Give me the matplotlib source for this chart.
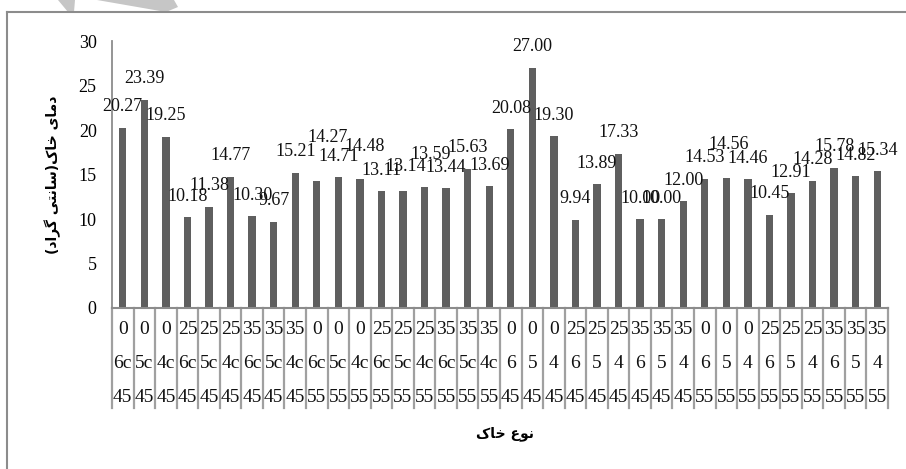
import matplotlib
matplotlib.use("Agg")
import matplotlib.pyplot as plt
import matplotlib.transforms as mtransforms
from matplotlib.lines import Line2D
from matplotlib.patches import Polygon

# soil temperature per soil type
temps = [20.27, 23.39, 19.25, 10.18, 11.38, 14.77, 10.30, 9.67, 15.21,
         14.27, 14.71, 14.48, 13.11, 13.14, 13.59, 13.44, 15.63, 13.69,
         20.08, 27.00, 19.30, 9.94, 13.89, 17.33, 10.00, 10.00, 12.00,
         14.53, 14.56, 14.46, 10.45, 12.91, 14.28, 15.78, 14.82, 15.34]

# three category levels shown under each bar
level1 = ["0", "0", "0", "25", "25", "25", "35", "35", "35"] * 4
level2 = (["6c", "5c", "4c"] * 6) + (["6", "5", "4"] * 6)
level3 = ["45"] * 9 + ["55"] * 9 + ["45"] * 9 + ["55"] * 9

y_title = "دمای خاک(سانتی گراد)"
x_title = "نوع خاک"

# hand nudges (pixels) for a few value labels that sit off their default spot
label_nudge = {9: (11, 22), 11: (5, 12), 13: (3, 4), 14: (6, 12), 28: (2, 13)}

# --- minimal Arabic/Persian shaping (matplotlib has no RTL layout) ---
FORMS = {  # isolated, final, initial, medial
    "ا": ("\uFE8D", "\uFE8E", None, None),
    "د": ("\uFEA9", "\uFEAA", None, None),
    "ر": ("\uFEAD", "\uFEAE", None, None),
    "و": ("\uFEED", "\uFEEE", None, None),
    "خ": ("\uFEA5", "\uFEA6", "\uFEA7", "\uFEA8"),
    "ک": ("\uFB8E", "\uFB8F", "\uFB90", "\uFB91"),
    "م": ("\uFEE1", "\uFEE2", "\uFEE3", "\uFEE4"),
    "ی": ("\uFBFC", "\uFBFD", "\uFBFE", "\uFBFF"),
    "س": ("\uFEB1", "\uFEB2", "\uFEB3", "\uFEB4"),
    "ن": ("\uFEE5", "\uFEE6", "\uFEE7", "\uFEE8"),
    "ت": ("\uFE95", "\uFE96", "\uFE97", "\uFE98"),
    "گ": ("\uFB92", "\uFB93", "\uFB94", "\uFB95"),
    "ع": ("\uFEC9", "\uFECA", "\uFECB", "\uFECC"),
}


def shape_rtl(text):
    out = []
    for i, ch in enumerate(text):
        if ch not in FORMS:
            out.append(ch)
            continue
        prev = text[i - 1] if i > 0 else ""
        nxt = text[i + 1] if i + 1 < len(text) else ""
        join_prev = prev in FORMS and FORMS[prev][2] is not None
        join_next = FORMS[ch][2] is not None and nxt in FORMS
        iso, fin, ini, med = FORMS[ch]
        if join_prev and join_next:
            out.append(med)
        elif join_prev:
            out.append(fin)
        elif join_next:
            out.append(ini)
        else:
            out.append(iso)
    vis = "".join(reversed(out))
    return vis.translate(str.maketrans("()", ")("))


plt.rcParams["font.family"] = ["Liberation Serif", "DejaVu Serif"]

W, H = 906, 469
fig = plt.figure(figsize=(W / 100, H / 100), dpi=100)


def px(pts):
    return [(a / W, 1 - b / H) for a, b in pts]


# faint grey stamp strokes along the top edge
stamp = "#c6c6c6"
fig.add_artist(Polygon(px([(58, 0), (75, 0), (74, 12), (68, 12)]), closed=True,
                       facecolor=stamp, edgecolor="none", transform=fig.transFigure))
fig.add_artist(Polygon(px([(97, 0), (174, 0), (178, 7), (166, 12)]), closed=True,
                       facecolor=stamp, edgecolor="none", transform=fig.transFigure))

# outer chart border (runs off the right and bottom edges)
grey = "#8c8c8c"
fig.add_artist(Line2D([7 / W, 1.02], [1 - 12 / H, 1 - 12 / H], color=grey, lw=1.5,
                      transform=fig.transFigure))
fig.add_artist(Line2D([7 / W, 7 / W], [1 - 12 / H, -0.02], color=grey, lw=1.5,
                      transform=fig.transFigure))

left, right, top, bottom = 112, 888, 41, 308
ax = fig.add_axes([left / W, 1 - bottom / H, (right - left) / W, (bottom - top) / H])

x = list(range(len(temps)))
ax.bar(x, temps, width=0.34, color="#5f5f5f")
ax.set_xlim(-0.5, len(temps) - 0.5)
ax.set_ylim(0, 30)
ax.set_yticks(range(0, 31, 5))
ax.tick_params(axis="y", length=0, pad=11, labelsize=13)
ax.set_xticks([])
for s in ["top", "right"]:
    ax.spines[s].set_visible(False)
ax.spines["left"].set_color(grey)
ax.spines["bottom"].set_color(grey)
ax.spines["left"].set_linewidth(1.3)
ax.spines["bottom"].set_linewidth(1.5)

for i, v in enumerate(temps):
    dx, dy = label_nudge.get(i, (0, 0))
    ax.annotate(f"{v:.2f}", (i, v), xytext=(dx, 21 + dy), textcoords="offset pixels",
                ha="center", va="center", fontsize=13, color="#111111")

# category table under the axis
ph = bottom - top
trans = mtransforms.blended_transform_factory(ax.transData, ax.transAxes)
tab_bottom = -(408 - bottom) / ph
for k in range(len(temps) + 1):
    ax.add_line(Line2D([k - 0.5, k - 0.5], [0, tab_bottom], color="#a0a0a0", lw=1.6,
                       transform=trans, clip_on=False))
row_y = [-(330 - bottom) / ph, -(364 - bottom) / ph, -(397 - bottom) / ph]
for labels, yy in zip([level1, level2, level3], row_y):
    for i, lab in enumerate(labels):
        ax.text(i, yy, lab, transform=trans, ha="center", va="center", fontsize=14,
                color="#111111")

fig.text(505 / W, 1 - 434 / H, shape_rtl(x_title), ha="center", va="center",
         fontsize=10, fontweight="bold", family="DejaVu Sans")
fig.text(53 / W, 1 - 175 / H, shape_rtl(y_title), ha="center", va="center",
         rotation=90, fontsize=10, fontweight="bold", family="DejaVu Sans")

fig.savefig("out.png", dpi=100)
